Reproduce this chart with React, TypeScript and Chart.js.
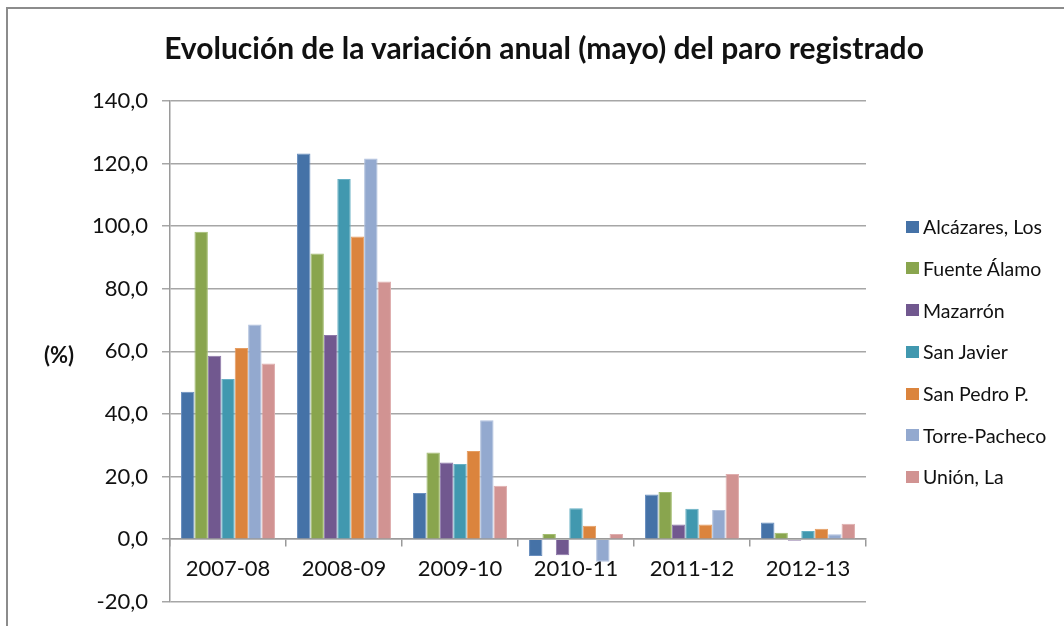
import React, { useEffect, useRef } from "react";
import { Chart, registerables } from "chart.js";

Chart.register(...registerables);

const titleText = "Evolución de la variación anual (mayo) del paro registrado";
const yAxisLabel = "(%)";
const categories = ["2007-08", "2008-09", "2009-10", "2010-11", "2011-12", "2012-13"];
const seriesNames = [
  "Alcázares, Los",
  "Fuente Álamo",
  "Mazarrón",
  "San Javier",
  "San Pedro P.",
  "Torre-Pacheco",
  "Unión, La",
];
const alcazares = [47.1, 123.2, 14.8, -5.4, 14.3, 5.3];
const fuenteAlamo = [98.2, 91.3, 27.7, 1.7, 15.1, 2.1];
const mazarron = [58.6, 65.2, 24.5, -5.1, 4.7, -0.5];
const sanJavier = [51.2, 115.1, 24.0, 9.9, 9.7, 2.6];
const sanPedro = [61.1, 96.7, 28.2, 4.3, 4.7, 3.3];
const torrePacheco = [68.6, 121.6, 38.0, -7.2, 9.3, 1.6];
const unionLa = [56.1, 82.3, 17.1, 1.7, 20.8, 4.9];
const seriesValues = [alcazares, fuenteAlamo, mazarron, sanJavier, sanPedro, torrePacheco, unionLa];
const colors = ["#4572A7", "#89A54E", "#71588F", "#4198AF", "#DB843D", "#93A9CF", "#D19392"];
const borderColors = ["#6a8fbf", "#a3bd70", "#8d77a8", "#66b0c4", "#e59d62", "#afc0dd", "#dfaeae"];
const yMin = -20;
const yMax = 140;
const yStep = 20;

const FONT = "Lato, 'Open Sans', 'DejaVu Sans', sans-serif";

export default function App() {
  const canvasRef = useRef<HTMLCanvasElement | null>(null);

  useEffect(() => {
    const canvas = canvasRef.current;
    if (!canvas) return;
    const chart = new Chart(canvas, {
      type: "bar",
      data: {
        labels: categories,
        datasets: seriesNames.map((name, i) => ({
          label: name,
          data: seriesValues[i],
          backgroundColor: colors[i],
          borderColor: borderColors[i],
          borderWidth: 1,
          categoryPercentage: 0.81,
          barPercentage: 1.0,
        })),
      },
      options: {
        animation: false,
        responsive: false,
        maintainAspectRatio: false,
        devicePixelRatio: 1,
        layout: { padding: { left: 60, top: 101, right: 198, bottom: 16 } },
        plugins: {
          legend: { display: false },
          title: { display: false },
          tooltip: { enabled: false },
        },
        scales: {
          x: {
            type: "category",
            position: { y: 0 } as any,
            offset: true,
            grid: {
              offset: true,
              drawOnChartArea: false,
              drawTicks: true,
              tickLength: 7,
              color: "#9a9a9a",
              lineWidth: 1.5,
            },
            border: { display: true, color: "#9a9a9a", width: 1.5 },
            ticks: {
              color: "#111",
              font: { family: FONT, size: 22 },
              padding: 10,
              maxRotation: 0,
            },
          },
          y: {
            type: "linear",
            min: yMin,
            max: yMax,
            afterFit: (scale: any) => {
              scale.width = 110;
            },
            grid: {
              color: "#a6a6a6",
              lineWidth: 1.5,
              drawTicks: true,
              tickLength: 8,
            },
            border: { display: true, color: "#9a9a9a", width: 1.5 },
            ticks: {
              stepSize: yStep,
              color: "#111",
              padding: 14,
              font: { family: FONT, size: 22 },
              callback: (v: any) => Number(v).toFixed(1).replace(".", ","),
            },
          },
        },
      },
    });
    return () => chart.destroy();
  }, []);

  return (
    <div
      style={{
        position: "fixed",
        left: 0,
        top: 0,
        width: 1064,
        height: 626,
        background: "#fff",
        overflow: "hidden",
        fontFamily: FONT,
      }}
    >
      <div
        style={{
          position: "absolute",
          left: 6,
          top: 7,
          width: 1100,
          height: 700,
          borderTop: "2px solid #8c8c8c",
          borderLeft: "2px solid #8c8c8c",
        }}
      />
      <canvas
        ref={canvasRef}
        width={1064}
        height={629}
        style={{ position: "absolute", left: 0, top: 0, width: 1064, height: 629 }}
      />
      <div
        style={{
          position: "absolute",
          left: 0,
          width: 1088,
          top: 29,
          textAlign: "center",
          fontSize: 30,
          fontWeight: 700,
          color: "#111",
          lineHeight: "36px",
          whiteSpace: "nowrap",
        }}
      >
        {titleText}
      </div>
      <div
        style={{
          position: "absolute",
          left: 44,
          top: 341,
          fontSize: 22,
          fontWeight: 700,
          color: "#111",
          lineHeight: "28px",
        }}
      >
        {yAxisLabel}
      </div>
      {seriesNames.map((name, i) => (
        <div
          key={name}
          style={{
            position: "absolute",
            left: 906,
            top: 226.7 + i * 41.7 - 12,
            height: 24,
            display: "flex",
            alignItems: "center",
            whiteSpace: "nowrap",
          }}
        >
          <span
            style={{
              display: "inline-block",
              width: 13,
              height: 12,
              background: colors[i],
              marginRight: 4,
            }}
          />
          <span style={{ fontSize: 19.5, color: "#111" }}>{name}</span>
        </div>
      ))}
    </div>
  );
}
